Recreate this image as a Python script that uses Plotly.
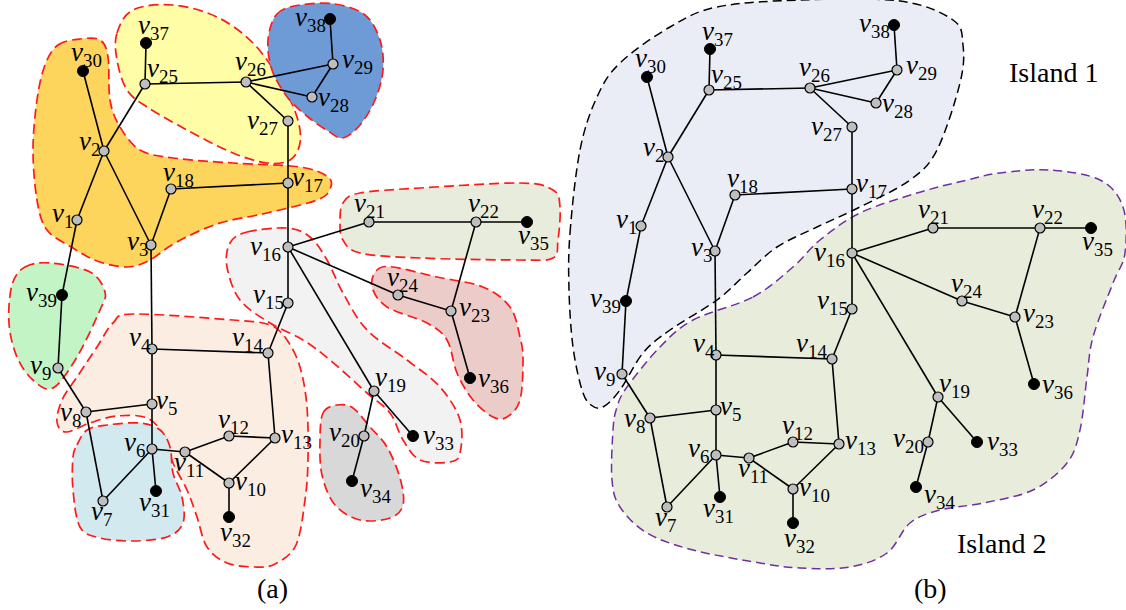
import plotly.graph_objects as go

# ---- network data (IEEE 39-bus system) ----
node_ids = list(range(1, 40))
node_x = [77, 104, 151, 152, 152, 152, 103, 86, 58, 229,
          185, 229, 275, 268, 288, 288, 288, 171, 374, 364,
          369, 476, 451, 398, 145, 246, 288, 312, 333, 83,
          156, 229, 413, 352, 527, 470, 146, 330, 62]
node_y = [220, 151, 245, 349, 404, 449, 501, 412, 368, 483,
          452, 436, 438, 353, 303, 247, 183, 189, 391, 436,
          222, 222, 311, 295, 84, 82, 121, 97, 64, 71,
          491, 517, 436, 481, 222, 378, 43, 19, 295]
generator_ids = list(range(30, 40))

edge_from = [1, 1, 2, 2, 2, 3, 3, 4, 4, 5, 5, 6, 6, 6, 7, 8, 9, 10, 10, 10,
             11, 12, 13, 14, 15, 16, 16, 16, 16, 17, 17, 19, 19, 20, 21, 22,
             22, 23, 23, 25, 25, 26, 26, 26, 28, 29]
edge_to = [2, 39, 3, 25, 30, 4, 18, 5, 14, 6, 8, 7, 11, 31, 8, 9, 39, 11, 13, 32,
           12, 13, 14, 15, 16, 17, 19, 21, 24, 18, 27, 20, 33, 34, 22, 23,
           35, 24, 36, 26, 37, 27, 28, 29, 29, 38]

# label placement around each bus (pixels, +y downward)
label_shift = {
    1: (-15, -2), 2: (-15, -5), 3: (-14, 1), 4: (-12, -7), 5: (14, 1),
    6: (-18, -2), 7: (-2, 15), 8: (-16, 5), 9: (-18, 2), 10: (21, 3),
    11: (4, 15), 12: (4, -12), 13: (21, 1), 14: (-21, -11), 15: (-20, -4),
    16: (-23, 4), 17: (19, -1), 18: (7, -12), 19: (16, -9), 20: (-20, 1),
    21: (0, -14), 22: (7, -14), 23: (23, 1), 24: (4, -13), 25: (17, -11),
    26: (4, -16), 27: (-26, 4), 28: (21, 5), 29: (24, 0), 30: (3, -14),
    31: (-2, 16), 32: (6, 20), 33: (25, 4), 34: (23, 12), 35: (6, 18),
    36: (23, 5), 37: (7, -13), 38: (-20, 3), 39: (-21, 2),
}
label_lift = 3  # the subscript makes the text box sit low; raise it a bit

# panel (b) repeats the same graph shifted to the right
panel_offsets = [(0, 0), (564, 6)]

# ---- region outlines (closed smooth curves) ----
regions_a = [
    ("#FDD45C", [(58, 45), (80, 39), (100, 40), (108, 57), (110, 100), (120, 127),
                 (140, 150), (173, 158), (233, 163), (300, 167), (328, 177),
                 (330, 189), (317, 200), (267, 213), (217, 224), (175, 243),
                 (150, 260), (127, 267), (97, 261), (73, 248), (47, 230),
                 (37, 200), (33, 150), (37, 100), (45, 65)]),
    ("#FFFDA6", [(117, 33), (133, 10), (173, 5), (217, 17), (253, 43), (280, 80),
                 (297, 117), (300, 143), (290, 160), (267, 163), (233, 153),
                 (187, 130), (147, 107), (127, 90), (117, 60)]),
    ("#6E9BD6", [(277, 14), (300, 5), (335, 4), (365, 15), (380, 40), (383, 70),
                 (375, 100), (360, 125), (343, 138), (328, 131), (308, 117),
                 (288, 98), (272, 70), (268, 40)]),
    ("#C3F4C6", [(25, 267), (50, 263), (90, 272), (105, 292), (100, 310),
                 (77, 357), (53, 388), (33, 380), (17, 357), (9, 323), (12, 285)]),
    ("#FBEDE2", [(113, 323), (133, 314), (233, 320), (270, 325), (287, 340),
                 (300, 367), (307, 407), (308, 460), (305, 500), (296, 545),
                 (275, 564), (255, 567), (227, 563), (207, 547), (197, 517),
                 (187, 490), (173, 463), (165, 437), (147, 418), (117, 416),
                 (90, 423), (66, 432), (57, 422), (62, 400), (77, 377), (97, 347)]),
    ("#D2E9EF", [(77, 445), (87, 430), (107, 425), (140, 423), (160, 430),
                 (170, 447), (173, 473), (182, 497), (183, 523), (167, 537),
                 (133, 541), (100, 538), (80, 527), (73, 490), (73, 457)]),
    ("#F2F2F2", [(247, 232), (287, 228), (310, 237), (327, 260), (343, 293),
                 (367, 330), (407, 360), (440, 387), (460, 420), (460, 453),
                 (450, 462), (420, 460), (403, 440), (390, 413), (367, 393),
                 (330, 360), (303, 340), (270, 323), (240, 300), (227, 267),
                 (230, 243)]),
    ("#E8ECDC", [(343, 203), (360, 193), (420, 188), (520, 183), (553, 190),
                 (560, 207), (558, 240), (553, 258), (520, 260), (420, 258),
                 (360, 253), (343, 240), (340, 223)]),
    ("#EBCCC9", [(377, 270), (393, 267), (437, 277), (483, 287), (510, 307),
                 (520, 337), (523, 360), (520, 400), (507, 417), (493, 417),
                 (473, 400), (457, 373), (447, 340), (427, 323), (387, 307),
                 (372, 287)]),
    ("#D8D8D8", [(323, 413), (337, 405), (353, 408), (370, 427), (387, 447),
                 (400, 478), (403, 505), (390, 518), (360, 520), (335, 505),
                 (322, 475), (320, 440)]),
]

island_1 = [(570, 233), (580, 150), (597, 97), (620, 63), (670, 27), (717, 7),
            (800, 0), (900, 1), (953, 20), (963, 45), (960, 83), (937, 150),
            (910, 180), (860, 207), (817, 227), (777, 247), (747, 273),
            (717, 300), (670, 330), (643, 353), (620, 390), (603, 407),
            (591, 405), (582, 390), (573, 347), (569, 290)]
island_2 = [(753, 297), (793, 267), (820, 240), (860, 213), (917, 193),
            (967, 180), (1000, 173), (1050, 170), (1100, 180), (1123, 207),
            (1125, 253), (1113, 283), (1093, 337), (1087, 377), (1080, 430),
            (1067, 463), (1033, 490), (983, 503), (940, 510), (910, 523),
            (887, 553), (850, 567), (800, 568), (760, 563), (693, 550),
            (647, 533), (620, 507), (612, 480), (613, 430), (617, 407),
            (627, 387), (660, 347), (693, 320)]


def smooth_closed_path(pts):
    """Closed Catmull-Rom spline through pts, as an SVG path."""
    n = len(pts)
    d = "M %.1f,%.1f" % pts[0]
    for i in range(n):
        p0 = pts[(i - 1) % n]
        p1 = pts[i]
        p2 = pts[(i + 1) % n]
        p3 = pts[(i + 2) % n]
        c1 = (p1[0] + (p2[0] - p0[0]) / 6, p1[1] + (p2[1] - p0[1]) / 6)
        c2 = (p2[0] - (p3[0] - p1[0]) / 6, p2[1] - (p3[1] - p1[1]) / 6)
        d += " C %.1f,%.1f %.1f,%.1f %.1f,%.1f" % (c1 + c2 + p2)
    return d + " Z"


shapes = []
for fill, pts in regions_a:
    shapes.append(dict(type="path", path=smooth_closed_path(pts), layer="below",
                       fillcolor=fill, line=dict(color="#FF1A1A", width=1.7, dash="10px,5px")))
shapes.append(dict(type="path", path=smooth_closed_path(island_1), layer="below",
                   fillcolor="#EAEDF5", line=dict(color="#000000", width=1.5, dash="9px,5px")))
shapes.append(dict(type="path", path=smooth_closed_path(island_2), layer="below",
                   fillcolor="#E8ECDB", line=dict(color="#7030A0", width=1.5, dash="9px,5px")))

serif = '"Liberation Serif", "Times New Roman", Times, serif'

fig = go.Figure()

pos = {n: (x, y) for n, x, y in zip(node_ids, node_x, node_y)}
annotations = []
for ox, oy in panel_offsets:
    ex, ey = [], []
    for a, b in zip(edge_from, edge_to):
        ex += [pos[a][0] + ox, pos[b][0] + ox, None]
        ey += [pos[a][1] + oy, pos[b][1] + oy, None]
    fig.add_trace(go.Scatter(x=ex, y=ey, mode="lines",
                             line=dict(color="black", width=1.6), hoverinfo="skip"))
    bus = [n for n in node_ids if n not in generator_ids]
    fig.add_trace(go.Scatter(
        x=[pos[n][0] + ox for n in bus], y=[pos[n][1] + oy for n in bus], mode="markers",
        marker=dict(size=10, color="#BEBEBE", line=dict(color="black", width=1.2))))
    fig.add_trace(go.Scatter(
        x=[pos[n][0] + ox for n in generator_ids], y=[pos[n][1] + oy for n in generator_ids],
        mode="markers", marker=dict(size=11, color="black", line=dict(color="black", width=1))))
    for n in node_ids:
        dx, dy = label_shift[n]
        annotations.append(dict(
            x=pos[n][0] + ox, y=pos[n][1] + oy, xref="x", yref="y",
            text="<i>v</i><sub>%d</sub>" % n, showarrow=False,
            xshift=dx, yshift=-dy + label_lift, xanchor="center", yanchor="middle",
            font=dict(family=serif, size=27, color="black")))

text_font = dict(family=serif, size=28, color="black")
for txt, x, y in [("(a)", 272, 588), ("(b)", 930, 588),
                  ("Island 1", 1053, 72), ("Island 2", 1001, 543)]:
    annotations.append(dict(x=x, y=y, xref="x", yref="y", text=txt, showarrow=False,
                            xanchor="center", yanchor="middle", font=text_font))

fig.update_layout(
    width=1126, height=610, margin=dict(l=0, r=0, t=0, b=0),
    paper_bgcolor="white", plot_bgcolor="white", showlegend=False,
    font=dict(family=serif),
    xaxis=dict(range=[0, 1126], visible=False, fixedrange=True),
    yaxis=dict(range=[610, 0], visible=False, fixedrange=True),
    shapes=shapes, annotations=annotations,
)

fig.write_html("out.html")
